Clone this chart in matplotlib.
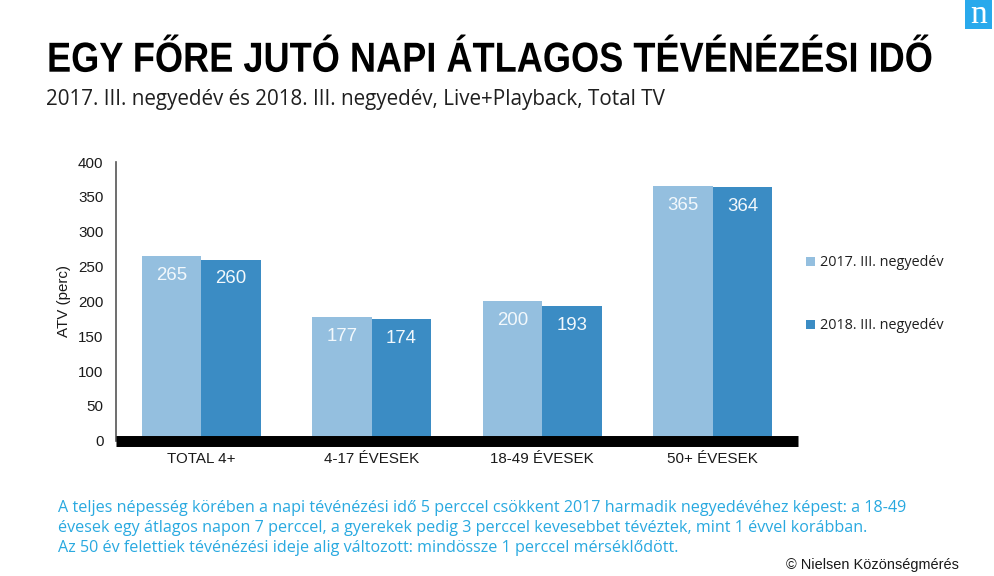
import matplotlib
matplotlib.use("Agg")
import matplotlib.pyplot as plt
from matplotlib.patches import Rectangle
from matplotlib.patheffects import AbstractPathEffect
from matplotlib.transforms import Affine2D
import numpy as np

W, H = 995, 576
categories = ["TOTAL 4+", "4-17 ÉVESEK", "18-49 ÉVESEK", "50+ ÉVESEK"]
series_2017 = [265, 177, 200, 365]
series_2018 = [260, 174, 193, 364]
legend_labels = ["2017. III. negyedév", "2018. III. negyedév"]
yticks = [0, 50, 100, 150, 200, 250, 300, 350, 400]
title = "EGY FŐRE JUTÓ NAPI ÁTLAGOS TÉVÉNÉZÉSI IDŐ"
subtitle = "2017. III. negyedév és 2018. III. negyedév, Live+Playback, Total TV"
body = ["A teljes népesség körében a napi tévénézési idő 5 perccel csökkent 2017 harmadik negyedévéhez képest: a 18-49",
        "évesek egy átlagos napon 7 perccel, a gyerekek pedig 3 perccel kevesebbet tévéztek, mint 1 évvel korábban.",
        "Az 50 év felettiek tévénézési ideje alig változott: mindössze 1 perccel mérséklődött."]
credit = "© Nielsen Közönségmérés"

C17, C18 = "#94bfdf", "#3b8cc4"
CYAN = "#29a9e0"
SANS = "Liberation Sans"
HUM = "Open Sans"


class VStretch(AbstractPathEffect):
    """Draw a text taller about its own baseline."""
    def __init__(self, sy):
        super().__init__()
        self.sy = sy

    def draw_path(self, renderer, gc, tpath, affine, rgbFace=None):
        renderer.draw_path(gc, tpath, Affine2D().scale(1, self.sy) + affine, rgbFace)


fig = plt.figure(figsize=(W/100, H/100), dpi=100)
def fx(x): return x/W
def fy(y): return 1-y/H

L, R, Y0, Y400 = 116, 798, 440.7, 162
ax = fig.add_axes([fx(L), fy(Y0), (R-L)/W, (Y0-Y400)/H])
x = np.arange(len(categories))
bw = 0.349
b1 = ax.bar(x-bw/2, series_2017, bw, color=C17, linewidth=0)
b2 = ax.bar(x+bw/2, series_2018, bw, color=C18, linewidth=0)
for bars, vals in ((b1, series_2017), (b2, series_2018)):
    for r, v in zip(bars, vals):
        ax.text(r.get_x()+r.get_width()/2, v-27.5, str(v), ha="center", va="center",
                color="#f2f8fc", fontsize=13.4, family=SANS)
ax.set_xlim(-0.5, 3.5)
ax.set_ylim(0, 400)
ax.set_yticks(yticks)
ax.set_xticks(x, categories)
ax.tick_params(axis="both", length=0, labelsize=10.9, labelcolor="#1a1a1a")
ax.tick_params(axis="y", pad=9)
ax.tick_params(axis="x", pad=8)
for t in ax.get_xticklabels()+ax.get_yticklabels():
    t.set_family(SANS)
for s in ("top", "right"):
    ax.spines[s].set_visible(False)
ax.spines["left"].set_color("#555555")
ax.spines["left"].set_linewidth(1.2)
ax.spines["left"].set_bounds(0, 400)
ax.spines["bottom"].set_color("black")
ax.spines["bottom"].set_linewidth(7.9)
ax.spines["bottom"].set_capstyle("butt")
ax.set_ylabel("ATV (perc)", fontsize=10.9, family=SANS, color="#1a1a1a")
ax.yaxis.set_label_coords((71-L)/(R-L), 0.5)

ttl = fig.text(fx(47), fy(71.7), title, fontsize=26.05, fontweight="bold", family=SANS, color="black", va="baseline", ha="left")
ttl.set_path_effects([VStretch(1.16)])
fig.text(fx(46), fy(100), subtitle, fontsize=14.85, family=HUM, color="#1f1f1f", va="center", ha="left")

for i, (lab, col, yy) in enumerate(zip(legend_labels, (C17, C18), (261.5, 324.5))):
    fig.add_artist(Rectangle((fx(806), fy(yy+4.5)), 9/W, 9/H, transform=fig.transFigure, color=col, lw=0))
    fig.text(fx(820), fy(yy+1), lab, fontsize=10.4, family=HUM, color="#1f1f1f", va="center", ha="left")

for line, yy in zip(body, (507.5, 527.5, 547.5)):
    fig.text(fx(58), fy(yy), line, fontsize=11.6, family=HUM, color=CYAN, va="center", ha="left")
fig.text(fx(959), fy(564.5), credit, fontsize=10.45, family=SANS, color="#1a1a1a", va="center", ha="right")

fig.add_artist(Rectangle((fx(965), fy(29)), 27/W, 29/H, transform=fig.transFigure, color="#29a9ec", lw=0))
fig.text(fx(978.5), fy(14.5), "n", fontsize=24, family="Liberation Serif", color="white", va="center", ha="center")

fig.savefig("out.png", dpi=100)
